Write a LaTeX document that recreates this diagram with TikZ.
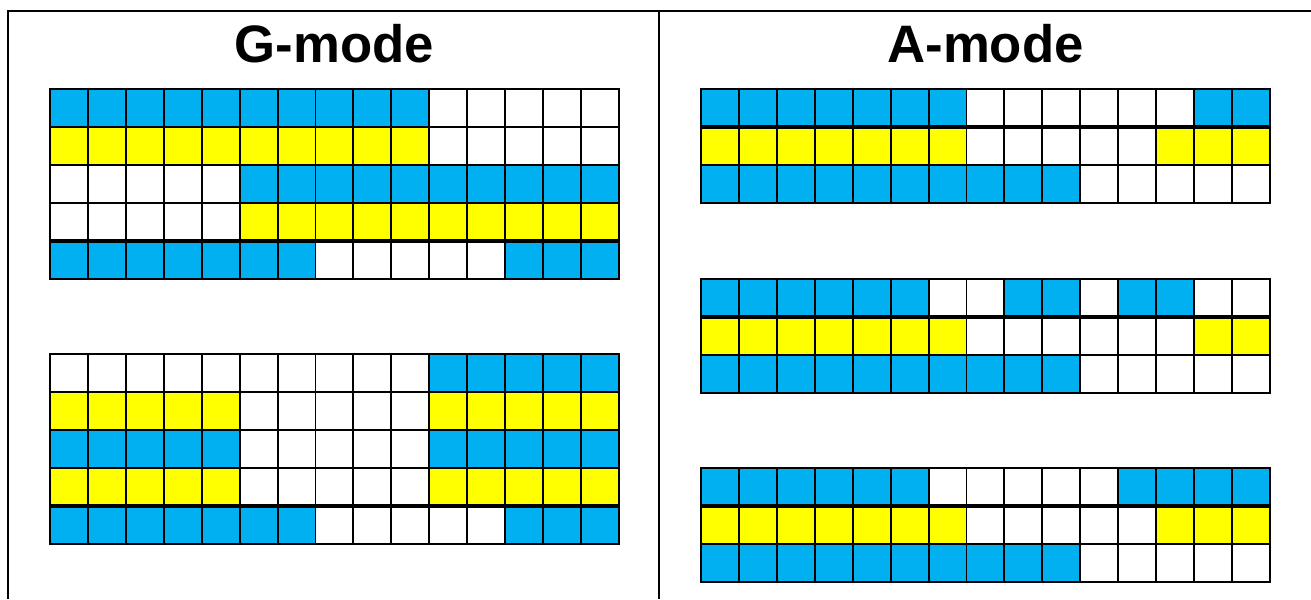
\documentclass[tikz,border=0pt]{standalone}
\usepackage{fontspec}
\setmainfont{Liberation Sans}
\usepackage{xcolor}
\usepackage{tikz}
\usetikzlibrary{positioning}

% cell colours, short names so the row lists stay readable
\definecolor{B}{HTML}{00B0F0}
\definecolor{Y}{HTML}{FFFF00}
\colorlet{W}{white}

% one row of 15 cells: x0, y0, list of colours
\newcommand{\cellrow}[3]{%
  \foreach \c [count=\i from 0] in {#3}
    \filldraw[cell, fill=\c] ({#1+\i*37.93},{#2}) rectangle ++(37.93,38);
}

\begin{document}
\begin{tikzpicture}[
        x=0.02cm, y=-0.02cm,
        % styles
        cell/.style={draw=black, line width=1.1pt},
        frameline/.style={draw=black, line width=1.2pt},
        sepline/.style={draw=black, line width=2.8pt},
        modetitle/.style={font=\fontsize{30}{36}\selectfont\bfseries, anchor=base, inner sep=0pt}
    ]
    \useasboundingbox (0,0) rectangle (1311,599);

    % outer frame and divider
    \coordinate (ftl) at (8,11);
    \coordinate (ftr) at (1311,11);
    \coordinate (fbl) at (8,599);
    \coordinate (dtop) at (659,11);
    \coordinate (dbot) at (659,599);
    \draw[frameline] (fbl) -- (ftl) -- (ftr);
    \draw[frameline] (dtop) -- (dbot);

    % titles
    \node[modetitle] (gtitle) at (334.5,62) {G-mode};
    \node[modetitle] (atitle) at (985.5,62) {A-mode};

    % G-mode, upper block
    \cellrow{50}{89}{B,B,B,B,B,B,B,B,B,B,W,W,W,W,W}
    \cellrow{50}{127}{Y,Y,Y,Y,Y,Y,Y,Y,Y,Y,W,W,W,W,W}
    \cellrow{50}{165}{W,W,W,W,W,B,B,B,B,B,B,B,B,B,B}
    \cellrow{50}{203}{W,W,W,W,W,Y,Y,Y,Y,Y,Y,Y,Y,Y,Y}
    \cellrow{50}{241}{B,B,B,B,B,B,B,W,W,W,W,W,B,B,B}
    \draw[cell] (50,89) rectangle (619,279);
    \draw[sepline] (50,241) -- (619,241);

    % G-mode, lower block
    \cellrow{50}{354}{W,W,W,W,W,W,W,W,W,W,B,B,B,B,B}
    \cellrow{50}{392}{Y,Y,Y,Y,Y,W,W,W,W,W,Y,Y,Y,Y,Y}
    \cellrow{50}{430}{B,B,B,B,B,W,W,W,W,W,B,B,B,B,B}
    \cellrow{50}{468}{Y,Y,Y,Y,Y,W,W,W,W,W,Y,Y,Y,Y,Y}
    \cellrow{50}{506}{B,B,B,B,B,B,B,W,W,W,W,W,B,B,B}
    \draw[cell] (50,354) rectangle (619,544);
    \draw[sepline] (50,506) -- (619,506);

    % A-mode, first block
    \cellrow{701}{89}{B,B,B,B,B,B,B,W,W,W,W,W,W,B,B}
    \cellrow{701}{127}{Y,Y,Y,Y,Y,Y,Y,W,W,W,W,W,Y,Y,Y}
    \cellrow{701}{165}{B,B,B,B,B,B,B,B,B,B,W,W,W,W,W}
    \draw[cell] (701,89) rectangle (1270,203);
    \draw[sepline] (701,127) -- (1270,127);

    % A-mode, second block
    \cellrow{701}{279}{B,B,B,B,B,B,W,W,B,B,W,B,B,W,W}
    \cellrow{701}{317}{Y,Y,Y,Y,Y,Y,Y,W,W,W,W,W,W,Y,Y}
    \cellrow{701}{355}{B,B,B,B,B,B,B,B,B,B,W,W,W,W,W}
    \draw[cell] (701,279) rectangle (1270,393);
    \draw[sepline] (701,317) -- (1270,317);

    % A-mode, third block
    \cellrow{701}{468}{B,B,B,B,B,B,W,W,W,W,W,B,B,B,B}
    \cellrow{701}{506}{Y,Y,Y,Y,Y,Y,Y,W,W,W,W,W,Y,Y,Y}
    \cellrow{701}{544}{B,B,B,B,B,B,B,B,B,B,W,W,W,W,W}
    \draw[cell] (701,468) rectangle (1270,582);
    \draw[sepline] (701,506) -- (1270,506);

\end{tikzpicture}
\end{document}
